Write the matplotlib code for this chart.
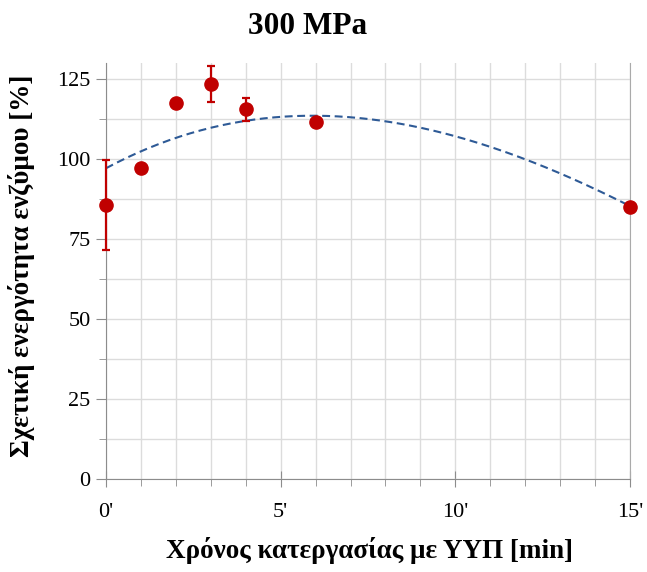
import numpy as np
import matplotlib
matplotlib.use("Agg")
import matplotlib.pyplot as plt
from matplotlib.ticker import MultipleLocator, FixedLocator, FuncFormatter

# Treatment time (min) and relative enzyme activity (%)
time_min = [0, 1, 2, 3, 4, 6, 15]
activity = [85.6, 97.2, 117.5, 123.4, 115.6, 111.6, 85.0]
activity_err = [14.0, 0.0, 0.0, 5.6, 3.6, 0.0, 0.0]

# cubic trend line coefficients (highest power first)
trend_coef = [0.0085, -0.57, 5.85, 97.1]

x_ticks = [0, 5, 10, 15]
y_ticks = [0, 25, 50, 75, 100, 125]

plt.rcParams["font.family"] = ["Liberation Serif", "DejaVu Serif"]

fig = plt.figure(figsize=(6.47, 5.72), dpi=100)
ax = fig.add_axes([0.1638, 0.1626, 0.8099, 0.7273])

xs = np.linspace(0, 15, 200)
ax.plot(xs, np.polyval(trend_coef, xs), linestyle=(0, (3.8, 2.2)),
        color="#2E5A96", linewidth=1.5, zorder=3)

err = np.array(activity_err)
_, caps, bars = ax.errorbar(time_min, activity,
                            yerr=np.where(err > 0, err, np.nan),
                            fmt="o", color="#C00000", ecolor="#C00000",
                            markersize=9.5, elinewidth=1.6, capsize=3,
                            capthick=1.6, zorder=4, clip_on=False)
for art in list(caps) + list(bars):
    art.set_clip_on(False)

ax.set_xlim(0, 15)
ax.set_ylim(0, 130)

ax.xaxis.set_major_locator(FixedLocator(x_ticks))
ax.xaxis.set_minor_locator(MultipleLocator(1))
ax.yaxis.set_major_locator(FixedLocator(y_ticks))
ax.yaxis.set_minor_locator(MultipleLocator(12.5))
ax.xaxis.set_major_formatter(FuncFormatter(lambda v, p: f"{int(v)}'"))

ax.grid(True, which="both", color="#DCDCDC", linewidth=1.0, zorder=0)
ax.set_axisbelow(True)

ax.spines["top"].set_visible(False)
ax.spines["right"].set_color("#AAAAAA")
ax.spines["left"].set_color("#8C8C8C")
ax.spines["bottom"].set_color("#8C8C8C")

ax.tick_params(axis="y", which="major", direction="out", length=7,
               color="#8C8C8C", labelsize=16, pad=4)
ax.tick_params(axis="y", which="minor", direction="out", length=5,
               color="#8C8C8C")
ax.tick_params(axis="x", which="major", direction="inout", length=11,
               color="#8C8C8C", labelsize=16, pad=12)
ax.tick_params(axis="x", which="minor", direction="out", length=5,
               color="#8C8C8C")

fig.text(308 / 647, 1 - 26 / 572, "300 MPa", fontsize=22.5, fontweight="bold",
         ha="center", va="center")
fig.text(370 / 647, 1 - 551 / 572, "Χρόνος κατεργασίας με ΥΥΠ [min]",
         fontsize=19.5, fontweight="bold", ha="center", va="center")
fig.text(22 / 647, 1 - 266 / 572, "Σχετική ενεργότητα ενζύμου [%]",
         fontsize=19.5, fontweight="bold", ha="center", va="center",
         rotation=90)

fig.savefig("out.png", dpi=100, facecolor="white")
